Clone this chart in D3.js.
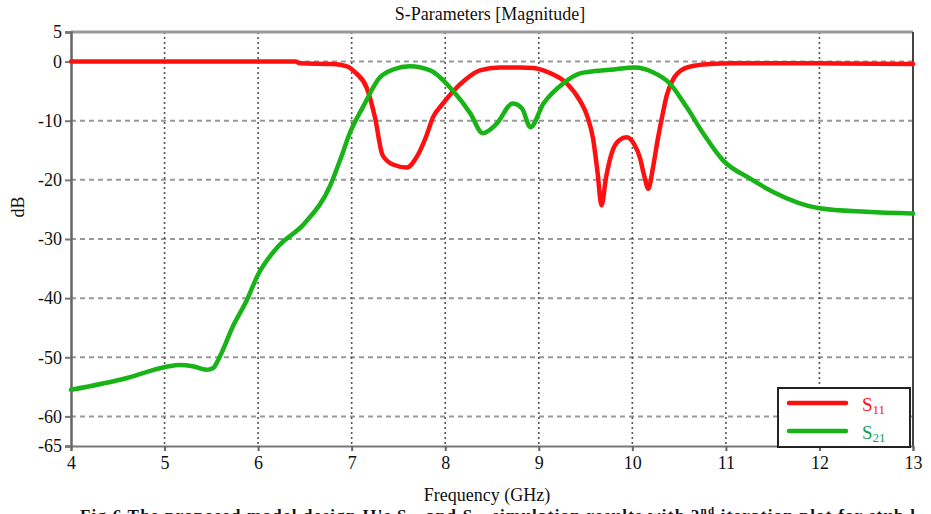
<!DOCTYPE html>
<html>
<head>
<meta charset="utf-8">
<script src="https://cdn.jsdelivr.net/npm/d3@7"></script>
<style>
  html, body { margin: 0; padding: 0; background: #fff; }
  svg { display: block; }
</style>
</head>
<body>
<svg id="chart" width="931" height="514"></svg>
<script>
// S-parameter magnitudes (dB) against frequency (GHz)
const s11Freq = [4.0, 5.0, 6.0, 6.4, 6.45, 6.8, 6.95, 7.05, 7.16, 7.25, 7.33, 7.44, 7.59, 7.7, 7.8, 7.87, 7.97, 8.08, 8.22, 8.37, 8.58, 8.8, 8.94, 9.1, 9.3, 9.44, 9.52, 9.58, 9.63, 9.67, 9.72, 9.79, 9.86, 9.94, 10.02, 10.08, 10.13, 10.17, 10.22, 10.27, 10.32, 10.37, 10.43, 10.54, 10.7, 10.83, 11.07, 12.0, 13.0];
const s11Vals = [0, 0, 0, 0, -0.3, -0.4, -0.8, -2.0, -4.4, -9.5, -15.8, -17.4, -17.9, -16.0, -12.5, -9.4, -7.2, -5.1, -3.0, -1.5, -1.0, -1.0, -1.1, -1.8, -3.7, -6.6, -9.3, -13.0, -19.0, -24.3, -19.5, -15.0, -13.3, -12.8, -14.0, -16.2, -19.5, -21.5, -18.0, -13.3, -9.2, -5.6, -3.2, -1.3, -0.6, -0.4, -0.3, -0.3, -0.4];

const s21Freq = [4.0, 4.6, 5.02, 5.16, 5.3, 5.45, 5.52, 5.59, 5.73, 5.88, 6.0, 6.2, 6.5, 6.77, 6.88, 6.98, 7.12, 7.3, 7.45, 7.62, 7.84, 8.08, 8.27, 8.4, 8.55, 8.72, 8.82, 8.91, 9.05, 9.26, 9.44, 9.6, 9.76, 10.03, 10.22, 10.4, 10.58, 10.76, 10.97, 11.26, 11.5, 12.0, 12.5, 13.0];
const s21Vals = [-55.5, -53.5, -51.6, -51.3, -51.5, -52.1, -51.8, -49.9, -44.8, -40.3, -36.0, -31.5, -27.3, -21.0, -16.5, -12.1, -7.7, -2.7, -1.3, -0.8, -1.5, -4.9, -8.8, -12.1, -10.5, -7.1, -7.9, -11.1, -7.1, -3.7, -2.0, -1.6, -1.4, -1.0, -1.8, -3.7, -7.7, -12.2, -16.7, -19.8, -22.0, -24.8, -25.4, -25.7];

const xTicks = [4, 5, 6, 7, 8, 9, 10, 11, 12, 13];
const yTicks = [5, 0, -10, -20, -30, -40, -50, -60, -65];
const yGrid = [0, -10, -20, -30, -40, -50, -60];
const xGrid = [5, 6, 7, 8, 9, 10, 11, 12];

const seriesNames = ["S11", "S21"];
const seriesColors = ["#ff1010", "#17b317"];
const legendTextColors = ["#ff1010", "#10a050"];

const serif = "'Liberation Serif', 'Times New Roman', Tinos, 'DejaVu Serif', serif";

const svg = d3.select("#chart").attr("font-family", serif).style("font-family", serif);
const plotL = 71, plotR = 913, plotT = 32, plotB = 446;

const x = d3.scaleLinear().domain([4, 13]).range([plotL, plotR]);
const y = d3.scaleLinear().domain([5, -65]).range([plotT, plotB]);

// grid lines
svg.append("g").selectAll("line").data(yGrid).join("line")
  .attr("x1", plotL).attr("x2", plotR)
  .attr("y1", d => y(d)).attr("y2", d => y(d))
  .attr("stroke", "#999").attr("stroke-width", 2)
  .attr("stroke-dasharray", "5,4");

svg.append("g").selectAll("line").data(xGrid).join("line")
  .attr("x1", d => x(d)).attr("x2", d => x(d))
  .attr("y1", plotT).attr("y2", plotB)
  .attr("stroke", "#555").attr("stroke-width", 1.6)
  .attr("stroke-dasharray", "2,3");

// frame
svg.append("line").attr("x1", plotL).attr("x2", plotR).attr("y1", plotT).attr("y2", plotT)
  .attr("stroke", "#9a9a9a").attr("stroke-width", 3);
svg.append("line").attr("x1", plotR).attr("x2", plotR).attr("y1", plotT).attr("y2", plotB)
  .attr("stroke", "#444").attr("stroke-width", 2);

// axes
const fmt = d => String(d);
const yAxis = d3.axisLeft(y).tickValues(yTicks).tickSize(6).tickPadding(3).tickFormat(fmt);
const gy = svg.append("g").attr("transform", `translate(${plotL},0)`).call(yAxis)
  .attr("font-family", null);
gy.select(".domain").attr("stroke", "#666").attr("stroke-width", 2.5);
gy.selectAll(".tick line").attr("stroke", "#777").attr("stroke-width", 2);
gy.selectAll(".tick text").attr("font-size", 18).attr("fill", "#111").style("font-family", serif);

const xAxis = d3.axisBottom(x).tickValues(xTicks).tickSize(5).tickPadding(5).tickFormat(fmt);
const gx = svg.append("g").attr("transform", `translate(0,${plotB})`).call(xAxis)
  .attr("font-family", null);
gx.select(".domain").attr("stroke", "#777").attr("stroke-width", 2);
gx.selectAll(".tick line").attr("stroke", "#666").attr("stroke-width", 2);
gx.selectAll(".tick text").attr("font-size", 18).attr("fill", "#111").style("font-family", serif);

// curves
const line = d3.line().x(d => x(d[0])).y(d => y(d[1])).curve(d3.curveMonotoneX);
const s11 = d3.zip(s11Freq, s11Vals);
const s21 = d3.zip(s21Freq, s21Vals);

svg.append("path").datum(s11).attr("d", line)
  .attr("fill", "none").attr("stroke", seriesColors[0]).attr("stroke-width", 4.5)
  .attr("stroke-linejoin", "round").attr("stroke-linecap", "round");
svg.append("path").datum(s21).attr("d", line)
  .attr("fill", "none").attr("stroke", seriesColors[1]).attr("stroke-width", 4.5)
  .attr("stroke-linejoin", "round").attr("stroke-linecap", "round");

// titles
svg.append("text").attr("x", 490).attr("y", 20).attr("text-anchor", "middle")
  .attr("font-size", 18).attr("fill", "#111").style("font-family", serif)
  .text("S-Parameters [Magnitude]");
svg.append("text").attr("transform", "translate(24,207) rotate(-90)").attr("text-anchor", "middle")
  .attr("font-size", 18).attr("fill", "#111").style("font-family", serif).text("dB");
svg.append("text").attr("x", 487).attr("y", 501).attr("text-anchor", "middle")
  .attr("font-size", 18).attr("fill", "#111").style("font-family", serif).text("Frequency (GHz)");

// legend
const lg = svg.append("g");
lg.append("rect").attr("x", 778).attr("y", 388).attr("width", 132).attr("height", 59)
  .attr("fill", "#fff").attr("stroke", "#222").attr("stroke-width", 2);
seriesNames.forEach((name, i) => {
  const yy = 403 + i * 28;
  lg.append("line").attr("x1", 789).attr("x2", 846).attr("y1", yy).attr("y2", yy)
    .attr("stroke", seriesColors[i]).attr("stroke-width", 4.5).attr("stroke-linecap", "round");
  const t = lg.append("text").attr("x", 862).attr("y", yy + 8)
    .attr("font-size", 19).attr("fill", legendTextColors[i]).style("font-family", serif);
  t.append("tspan").text(name.charAt(0));
  t.append("tspan").attr("font-size", 13).attr("dy", 3).text(name.slice(1));
});

// figure caption (runs off the bottom edge)
const cap = svg.append("text").attr("x", 80).attr("y", 521)
  .attr("font-size", 17).attr("font-weight", "bold").attr("fill", "#111")
  .style("font-family", serif)
  .attr("textLength", 835).attr("lengthAdjust", "spacing");
cap.append("tspan").text("Fig 6 The proposed model design II's S");
cap.append("tspan").attr("font-size", 11).attr("dy", 3).text("11");
cap.append("tspan").attr("dy", -3).text(" and S");
cap.append("tspan").attr("font-size", 11).attr("dy", 3).text("21");
cap.append("tspan").attr("dy", -3).text(" simulation results with 2");
cap.append("tspan").attr("font-size", 11).attr("dy", -7).text("nd");
cap.append("tspan").attr("dy", 7).text(" iteration plot for stub l");
</script>
</body>
</html>
